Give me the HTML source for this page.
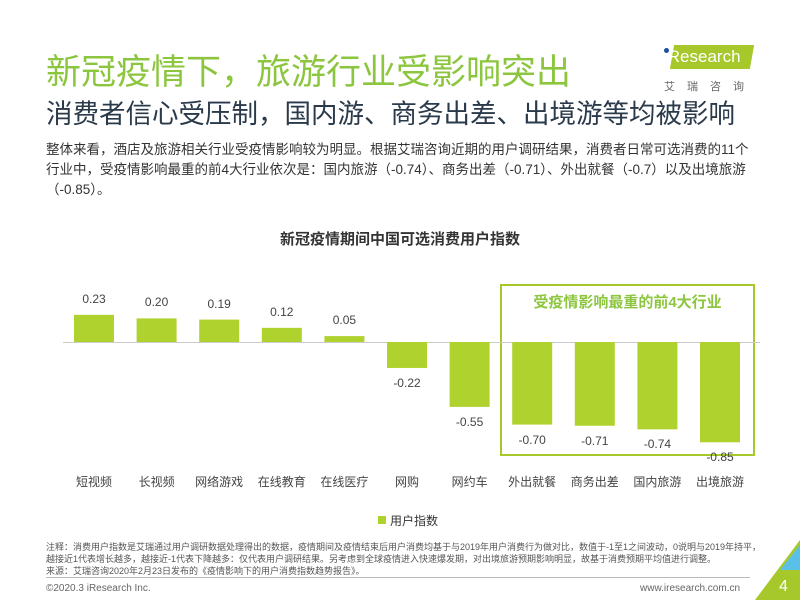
<!DOCTYPE html>
<html><head><meta charset="utf-8"><style>
body{margin:0;width:800px;height:600px;background:#fff;position:relative;overflow:hidden;font-family:"Liberation Sans","Noto Sans CJK SC",sans-serif;}
.a{position:absolute;white-space:nowrap;}
</style></head><body>
<div class="a" style="left:46px;top:44px;font-size:35px;color:#8cc63f;letter-spacing:0px">新冠疫情下，旅游行业受影响突出</div>
<div class="a" style="left:46px;top:92px;font-size:26.5px;color:#2a3a4a">消费者信心受压制，国内游、商务出差、出境游等均被影响</div>
<div class="a" style="left:46px;top:140px;font-size:13.5px;color:#333;line-height:20px">整体来看，酒店及旅游相关行业受疫情影响较为明显。根据艾瑞咨询近期的用户调研结果，消费者日常可选消费的11个<br>行业中，受疫情影响最重的前4大行业依次是：国内旅游（-0.74）、商务出差（-0.71）、外出就餐（-0.7）以及出境旅游<br>（-0.85）。</div>
<div class="a" style="left:672px;top:45px;width:80px;height:24px;background:#a6c82b;transform:skewX(-10deg)"></div>
<div class="a" style="left:664px;top:47px;font-size:17px;color:#fff">i<span>Research</span></div>
<div class="a" style="left:664px;top:48px;width:5px;height:5px;border-radius:50%;background:#1e4fa0"></div>
<div class="a" style="left:664px;top:78px;font-size:11px;color:#666;letter-spacing:12px">艾瑞咨询</div>
<div class="a" style="left:0;top:228px;width:800px;text-align:center;font-size:15px;font-weight:bold;color:#333">新冠疫情期间中国可选消费用户指数</div>
<div class="a" style="left:500px;top:284px;width:255px;height:172px;border:2px solid #a6c82b;box-sizing:border-box"></div>
<div class="a" style="left:500px;top:291px;width:255px;text-align:center;font-size:15px;font-weight:bold;color:#8cc63f">受疫情影响最重的前4大行业</div>
<div class="a" style="left:63px;top:342px;width:697px;height:1px;background:#ccc"></div>
<svg class="a" style="left:0;top:0" width="800" height="600">
<g fill="#b0d22f" id="bars"></g>
</svg>
<div id="labs"></div>
<div class="a" style="left:378px;top:516px;width:8px;height:8px;background:#b0d22f"></div>
<div class="a" style="left:390px;top:512px;font-size:12px;color:#333">用户指数</div>
<div class="a" style="left:46px;top:541px;font-size:9px;color:#555;line-height:12px">注释：消费用户指数是艾瑞通过用户调研数据处理得出的数据，疫情期间及疫情结束后用户消费均基于与2019年用户消费行为做对比，数值于-1至1之间波动，0说明与2019年持平，<br>越接近1代表增长越多，越接近-1代表下降越多：仅代表用户调研结果。另考虑到全球疫情进入快速爆发期，对出境旅游预期影响明显，故基于消费预期平均值进行调整。<br>来源：艾瑞咨询2020年2月23日发布的《疫情影响下的用户消费指数趋势报告》。</div>
<div class="a" style="left:46px;top:577px;width:704px;height:1px;background:#bbb"></div>
<div class="a" style="left:46px;top:583px;font-size:10px;color:#666">©2020.3 iResearch Inc.</div>
<div class="a" style="left:640px;top:583px;font-size:10px;color:#666">www.iresearch.com.cn</div>
<svg class="a" style="left:755px;top:540px" width="45" height="60"><polygon points="45,0 45,60 0,60" fill="#a6c82b"/><polygon points="45,5 45,30 25,30" fill="#5bc0e8"/></svg>
<div class="a" style="left:779px;top:578px;font-size:16px;color:#fff">4</div>
<script>
var d=[["短视频",0.23],["长视频",0.20],["网络游戏",0.19],["在线教育",0.12],["在线医疗",0.05],["网购",-0.22],["网约车",-0.55],["外出就餐",-0.70],["商务出差",-0.71],["国内旅游",-0.74],["出境旅游",-0.85]];
var g=document.getElementById('bars'),L=document.getElementById('labs'),h='',t='';
d.forEach(function(e,i){var c=94+62.6*i,v=e[1],hh=Math.abs(v)*118,y=v>0?342-hh:342;
h+='<rect x="'+(c-20)+'" y="'+y+'" width="40" height="'+hh+'"/>';
var ly=v>0?y-23:y+hh+8;
t+='<div class="a" style="left:'+(c-30)+'px;top:'+ly+'px;width:60px;text-align:center;font-size:12px;color:#444">'+v.toFixed(2)+'</div>';
t+='<div class="a" style="left:'+(c-35)+'px;top:473px;width:70px;text-align:center;font-size:12px;color:#444">'+e[0]+'</div>';});
g.innerHTML=h;L.innerHTML=t;
</script>
</body></html>
